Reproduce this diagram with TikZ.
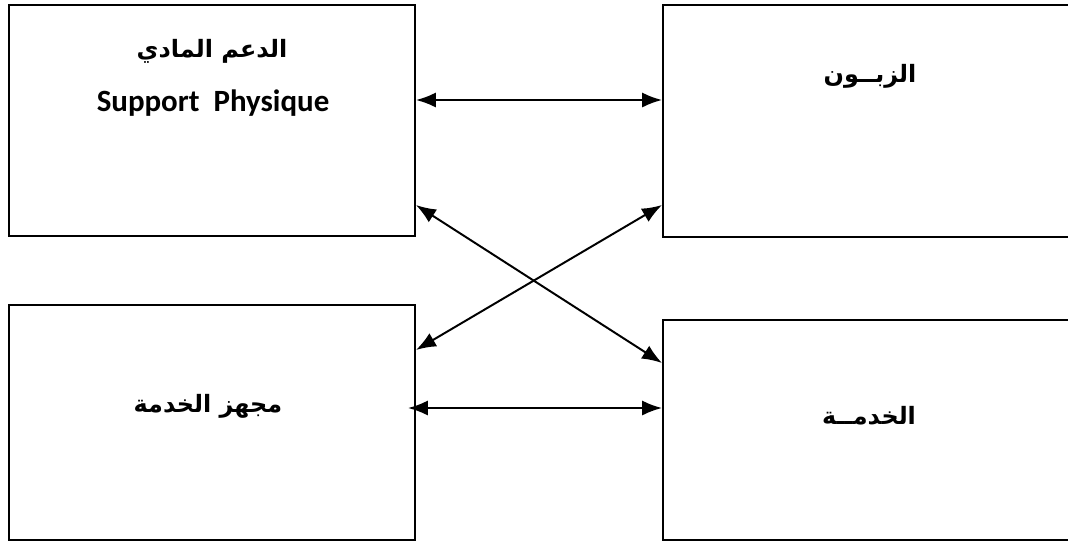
\documentclass[tikz,border=0pt]{standalone}
\usepackage{fontspec}
\setmainfont{Carlito}
\newfontfamily\arabicfont[Script=Arabic]{DejaVu Sans}
\TeXXeTstate=1
\usetikzlibrary{arrows.meta,calc}

\begin{document}
\begin{tikzpicture}[x=0.025cm,y=-0.025cm,
  box/.style={draw,line width=1.3pt,inner sep=0pt},
  ar/.style={font=\arabicfont\bfseries\fontsize{17}{20}\selectfont},
  lat/.style={font=\bfseries\fontsize{22}{26}\selectfont},
  link/.style={{Latex[length=0.5cm,width=0.38cm]}-{Latex[length=0.5cm,width=0.38cm]},line width=1.4pt}]
\useasboundingbox (0,0) rectangle (1068,542);
% boxes
\node[box,minimum width=10.15cm,minimum height=5.775cm] (support) at (212,120.5) {};
\node[box,minimum width=10.3cm,minimum height=5.8cm] (client) at (869,121) {};
\node[box,minimum width=10.15cm,minimum height=5.875cm] (prestataire) at (212,422.5) {};
\node[box,minimum width=10.3cm,minimum height=5.5cm] (service) at (869,430) {};
% texts
\node[ar] (supportar) at (212,51) {\beginR الدعم المادي\endR};
\node[lat] (supportfr) at (213,103) {Support\ \ Physique};
\node[ar] (clientar) at (870,76) {\beginR الزبــون\endR};
\node[ar] (prestatairear) at (208,406) {\beginR مجهز الخدمة\endR};
\node[ar] (servicear) at (869,416) {\beginR الخدمــة\endR};
% links
\draw[link] (support.east |- 0,100) -- (client.west |- 0,100);
\draw[link] ($(prestataire.east |- 0,408)+(-8,0)$) -- (service.west |- 0,408);
\draw[link] (support.east |- 0,205) -- (service.west |- 0,363);
\draw[link] (client.west |- 0,205) -- (prestataire.east |- 0,350);
\end{tikzpicture}
\end{document}
